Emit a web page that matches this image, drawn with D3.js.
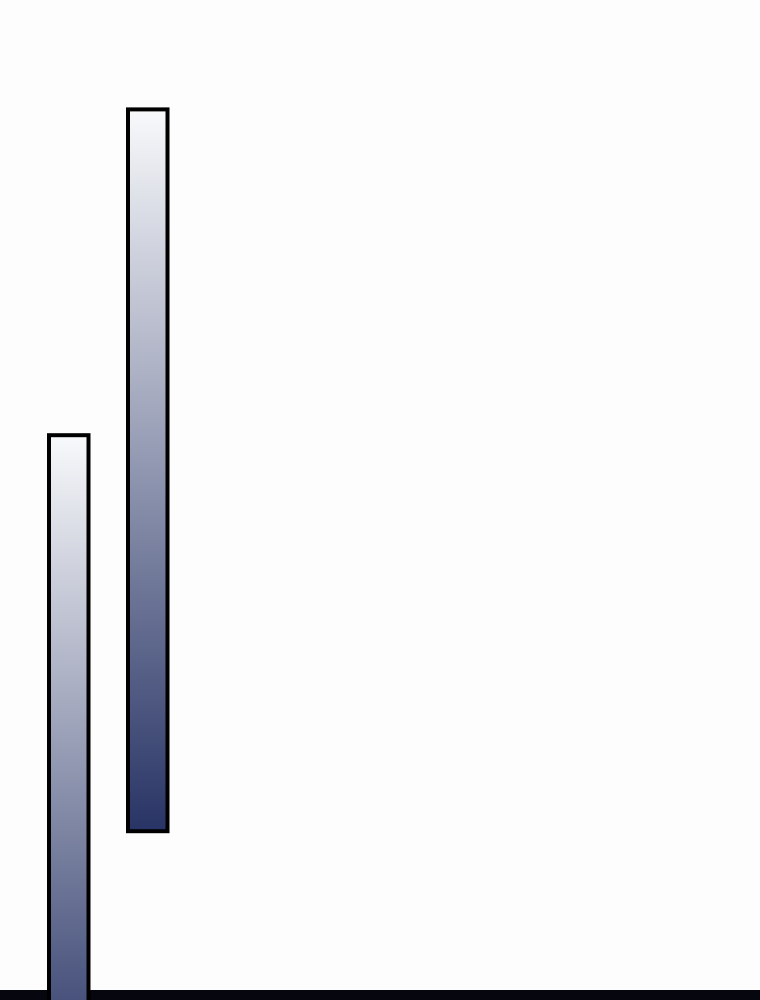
<!DOCTYPE html>
<html>
<head>
<meta charset="utf-8">
<script src="https://cdn.jsdelivr.net/npm/d3@7"></script>
<style>
  html, body { margin: 0; padding: 0; background: #fdfdfd; overflow: hidden; }
  svg { display: block; }
</style>
</head>
<body>
<svg id="chart" width="760" height="1000"></svg>
<script>
// Data: floating range bars
const categories = ["A", "B"];
const lowValues = [-12.1, 18.2];
const highValues = [62.2, 98.4];

const width = 760, height = 1000;
const svg = d3.select("#chart");

const x = d3.scaleBand()
  .domain(categories)
  .range([29.25, 187.25])
  .paddingInner(0.5)
  .paddingOuter(0.25);

const y = d3.scaleLinear()
  .domain([0, 100])
  .range([995, 95]);

const data = categories.map((c, i) => ({ cat: c, low: lowValues[i], high: highValues[i] }));

const defs = svg.append("defs");
const grad = defs.append("linearGradient")
  .attr("id", "barGrad")
  .attr("x1", 0).attr("y1", 0).attr("x2", 0).attr("y2", 1);
grad.append("stop").attr("offset", "0%").attr("stop-color", "#f8f9fb");
grad.append("stop").attr("offset", "100%").attr("stop-color", "#283465");

// baseline
svg.append("line")
  .attr("x1", 0).attr("x2", width)
  .attr("y1", y(0)).attr("y2", y(0))
  .attr("stroke", "#06060e")
  .attr("stroke-width", 10);

svg.selectAll("rect.bar")
  .data(data)
  .join("rect")
  .attr("class", "bar")
  .attr("x", d => x(d.cat))
  .attr("width", x.bandwidth())
  .attr("y", d => y(d.high))
  .attr("height", d => y(d.low) - y(d.high))
  .attr("fill", "url(#barGrad)")
  .attr("stroke", "#000")
  .attr("stroke-width", 4);
</script>
</body>
</html>
